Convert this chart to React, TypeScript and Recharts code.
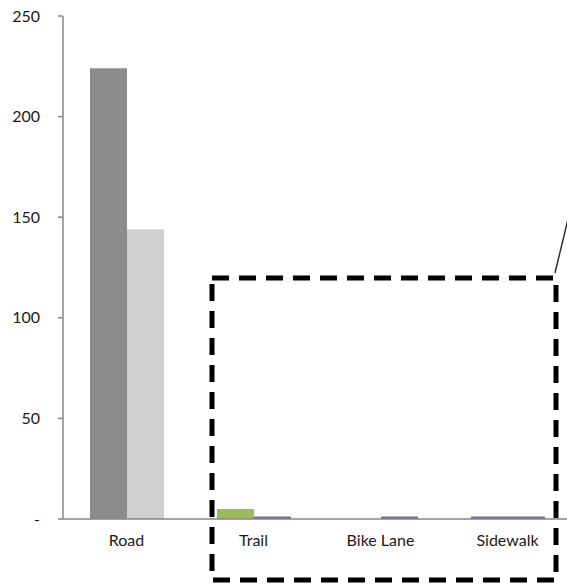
import React from "react";
import { BarChart, Bar, Cell, XAxis, YAxis } from "recharts";

const categories = ["Road", "Trail", "Bike Lane", "Sidewalk"];
const firstValues = [224, 5, 0, 1.2];
const secondValues = [144, 1.2, 1.2, 1.2];
const firstColors = ["#8C8C8C", "#9BBB59", "#8064A2", "#8064A2"];
const secondColors = ["#D0D0D0", "#8064A2", "#8064A2", "#8064A2"];
const yTicks = [0, 50, 100, 150, 200, 250];
const boundaryTicks = [0, 1, 2, 3, 4];

const data = categories.map((name, i) => ({
  name,
  first: firstValues[i],
  second: secondValues[i],
}));

const FONT = "Lato, 'Open Sans', sans-serif";
const AXIS = "#868686";

export default function App() {
  return (
    <div
      style={{
        position: "absolute",
        left: 0,
        top: 0,
        width: 567,
        height: 584,
        overflow: "hidden",
        background: "#fff",
      }}
    >
      <BarChart
        width={580}
        height={584}
        data={data}
        margin={{ top: 16, right: 9, left: 0, bottom: 0 }}
        barCategoryGap={27}
        barGap={0}
      >
        {/* boundary ticks like Excel, no labels */}
        <XAxis
          xAxisId="edges"
          type="number"
          dataKey={() => 0}
          domain={[0, 4]}
          ticks={boundaryTicks}
          height={0}
          tick={false}
          axisLine={false}
          tickLine={{ stroke: AXIS, strokeWidth: 1.5 }}
          tickSize={5}
          allowDataOverflow
        />
        <XAxis
          xAxisId="cat"
          dataKey="name"
          height={65}
          axisLine={{ stroke: AXIS, strokeWidth: 1.5 }}
          tickLine={false}
          tickSize={5}
          tickMargin={11}
          interval={0}
          tick={{ fontSize: 16, fill: "#1a1a1a", fontFamily: FONT }}
        />
        <YAxis
          width={63}
          domain={[0, 250]}
          ticks={yTicks}
          interval={0}
          axisLine={{ stroke: AXIS, strokeWidth: 1.5 }}
          tickLine={{ stroke: AXIS, strokeWidth: 1.5 }}
          tickSize={5}
          tickMargin={18}
          tickFormatter={(v: number) => (v === 0 ? "-" : String(v))}
          tick={{ fontSize: 16, fill: "#1a1a1a", fontFamily: FONT }}
        />
        <Bar xAxisId="cat" dataKey="first" isAnimationActive={false}>
          {data.map((d, i) => (
            <Cell key={d.name} fill={firstColors[i]} />
          ))}
        </Bar>
        <Bar xAxisId="cat" dataKey="second" isAnimationActive={false}>
          {data.map((d, i) => (
            <Cell key={d.name} fill={secondColors[i]} />
          ))}
        </Bar>
      </BarChart>
      {/* annotation: dashed zoom box and leader line */}
      <svg
        width={567}
        height={584}
        style={{ position: "absolute", left: 0, top: 0, pointerEvents: "none" }}
      >
        <rect
          x={212}
          y={278}
          width={344}
          height={302}
          fill="none"
          stroke="#000"
          strokeWidth={5}
          strokeDasharray="17 10"
        />
        <line x1={555} y1={273} x2={575} y2={190} stroke="#333" strokeWidth={1.5} />
      </svg>
    </div>
  );
}
